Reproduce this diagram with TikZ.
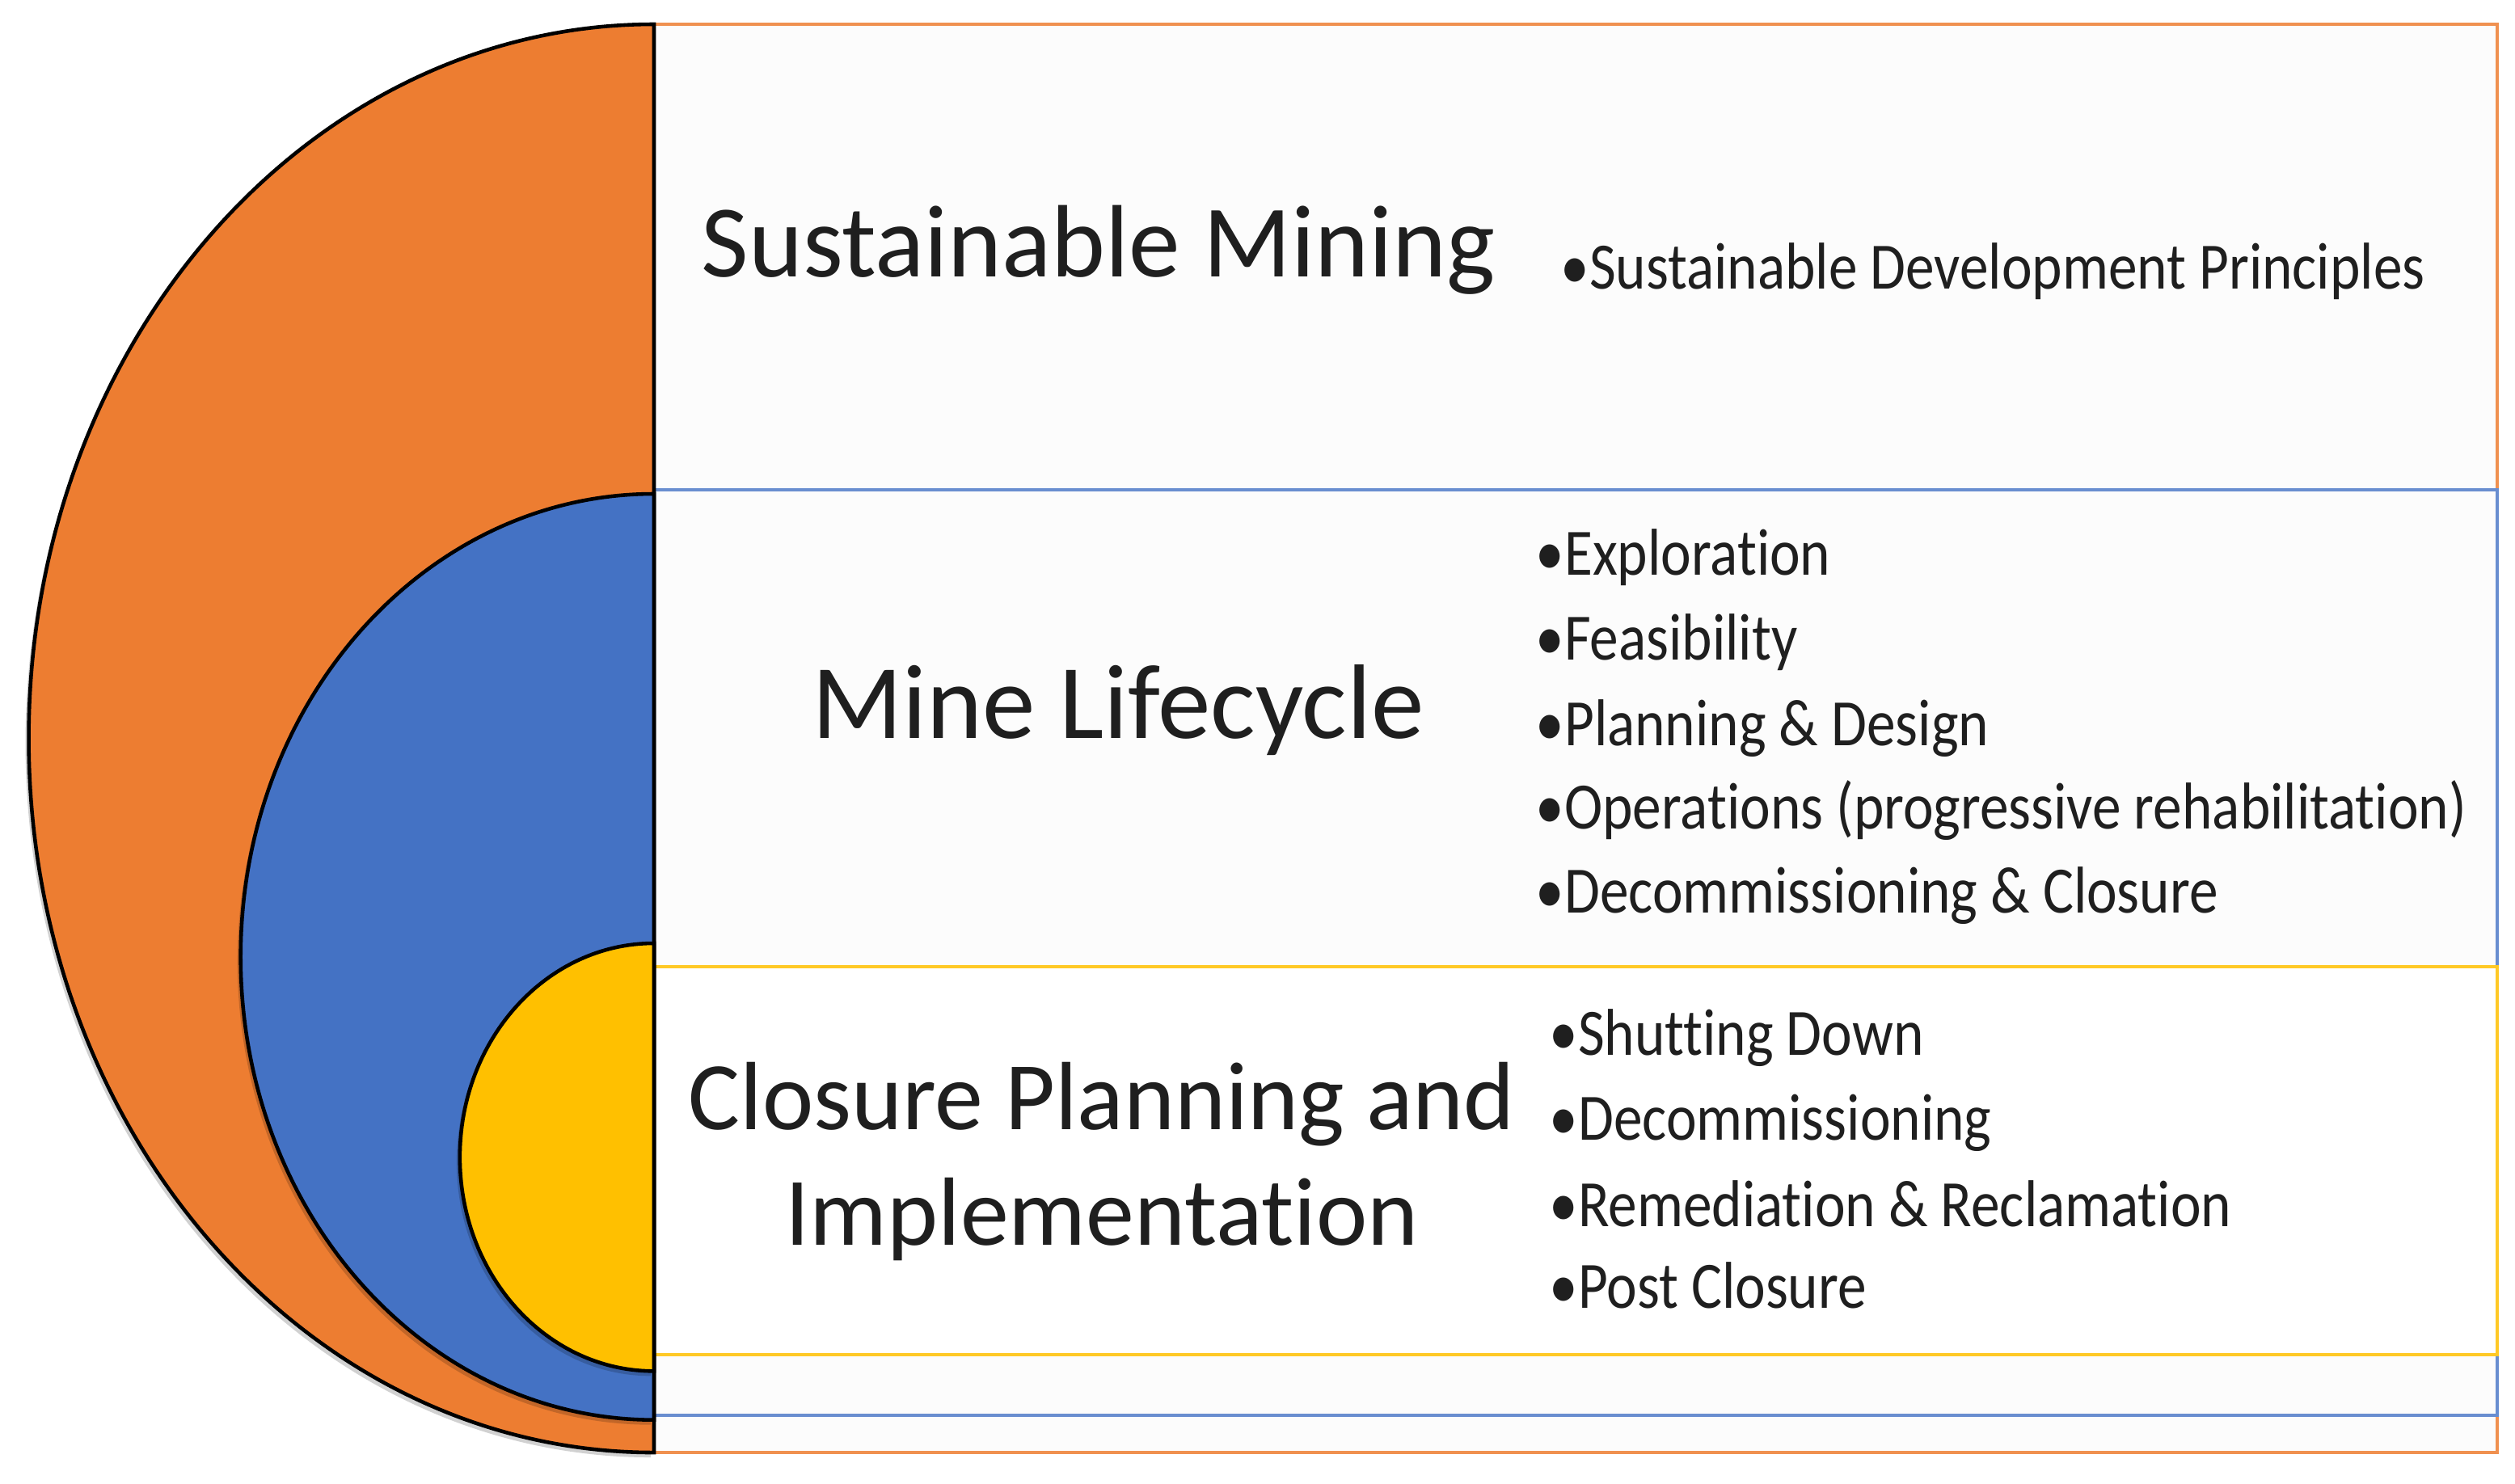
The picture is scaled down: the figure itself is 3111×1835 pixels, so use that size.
\documentclass[tikz,border=0pt]{standalone}
\usepackage{fontspec}
\setmainfont[Ligatures={NoCommon}]{Carlito}
\newfontfamily\listfont[FakeStretch=0.87, Ligatures={NoCommon}]{Carlito}
\usetikzlibrary{shadows}
\definecolor{mineorange}{RGB}{237,125,49}
\definecolor{mineblue}{RGB}{68,114,196}
\definecolor{mineyellow}{RGB}{255,192,0}
\definecolor{boxfill}{RGB}{252,252,252}

\begin{document}
\begin{tikzpicture}[x=0.01cm, y=-0.01cm,
        title/.style={text=black!88, align=center, inner sep=0pt},
        item/.style={font=\listfont\fontsize{23.3}{29.8}\selectfont, text=black!88, anchor=base west, inner sep=0pt},
        half/.style={draw=black, line width=1.3pt,
            drop shadow={shadow xshift=-0.04cm, shadow yshift=-0.06cm, opacity=0.18, fill=black}}]
        % Fix the page size
        \useasboundingbox (0,0) rectangle (3111,1835);

        % Draw the three boxes
        \draw[mineorange!85, line width=0.9pt, fill=boxfill] (809,30) rectangle (3089,1797);
        \draw[mineblue!80, line width=0.9pt, fill=boxfill] (809,606) rectangle (3089,1751);
        \draw[mineyellow!85, line width=0.9pt, fill=white] (809,1196) rectangle (3089,1676);

        % Draw the nested half ellipses
        \draw[half, fill=mineorange] (809,30) arc[start angle=90, end angle=270, x radius=7.73cm, y radius=8.83cm] -- cycle;
        \draw[half, fill=mineblue] (809,611) arc[start angle=90, end angle=270, x radius=5.11cm, y radius=5.725cm] -- cycle;
        \draw[half, fill=mineyellow] (809,1167) arc[start angle=90, end angle=270, x radius=2.40cm, y radius=2.645cm] -- cycle;

        % Titles
        \node[title, anchor=base, font=\fontsize{36.2}{41}\selectfont] (sustainable) at (1359,342) {Sustainable Mining};
        \node[title, anchor=base, font=\fontsize{37.3}{42}\selectfont] (lifecycle) at (1383,913) {Mine Lifecycle};
        \node[title, font=\fontsize{34.1}{40.7}\selectfont] (closure) at (1363,1437) {Closure Planning and\\Implementation};

        % Sustainable mining list
        \node[item] (principles) at (1930,357) {•Sustainable Development Principles};

        % Mine lifecycle list
        \node[item] (exploration) at (1899,711) {•Exploration};
        \node[item] (feasibility) at (1899,816) {•Feasibility};
        \node[item] (design) at (1899,922) {•Planning \& Design};
        \node[item] (operations) at (1899,1025) {•Operations (progressive rehabilitation)};
        \node[item] (decommission) at (1899,1129) {•Decommissioning \& Closure};

        % Closure list
        \node[item] (shutting) at (1916,1305) {•Shutting Down};
        \node[item] (decommissioning) at (1916,1410) {•Decommissioning};
        \node[item] (remediation) at (1916,1517) {•Remediation \& Reclamation};
        \node[item] (postclosure) at (1916,1618) {•Post Closure};
    \end{tikzpicture}
\end{document}
